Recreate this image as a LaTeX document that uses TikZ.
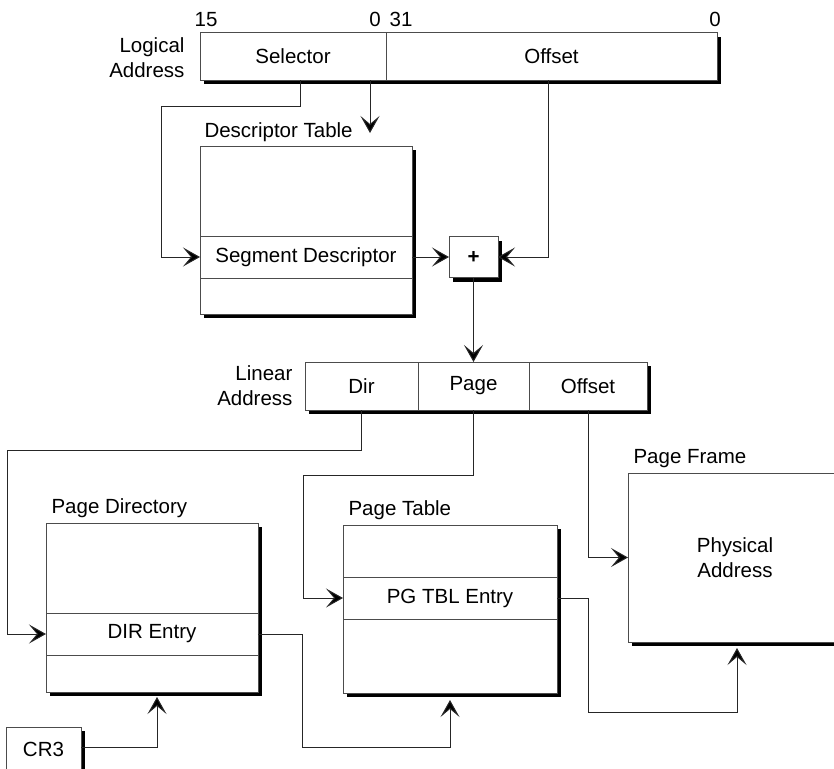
\documentclass[tikz,border=0pt]{standalone}
\usepackage{fontspec}
\setmainfont{Liberation Sans}
\usetikzlibrary{arrows.meta,shadows,positioning}

\begin{document}
\begin{tikzpicture}[x=1pt,y=-1pt,
  every node/.style={font=\fontsize{20.5pt}{25pt}\selectfont},
  regbox/.style={draw=black!70,fill=white,line width=1pt,inner sep=0pt,outer sep=0pt,
    anchor=north west,
    drop shadow={shadow xshift=4pt,shadow yshift=-4pt,fill=black,opacity=1}},
  rowbox/.style={draw=black!70,line width=1pt,inner sep=0pt,outer sep=0pt,anchor=north west},
  link/.style={draw=black!85,line width=1pt,-{Stealth[length=17pt,width=19pt,inset=8pt,fill=black]}}]
\useasboundingbox (0,0) rectangle (834,768);
\clip (0,0) rectangle (834,768);

% logical address
\node[anchor=east,align=right] (lalabel) at (188,58) {Logical\\Address};
\node[regbox,minimum width=186pt,minimum height=47pt] (sel) at (200,33) {Selector};
\node[regbox,minimum width=331pt,minimum height=47pt] (loff) at (386,33) {Offset};
\node (b15) at (206,19.5) {15};
\node (b0a) at (375,19.5) {0};
\node (b31) at (401,19.5) {31};
\node (b0b) at (715,19.5) {0};

% descriptor table
\node[anchor=base west] (dtlabel) at (201,137) {Descriptor Table};
\node[regbox,minimum width=212pt,minimum height=168pt] (dtab) at (200,146) {};
\node[rowbox,minimum width=212pt,minimum height=42pt] (segdesc) at (200,236) {Segment Descriptor};
\node[regbox,anchor=center,minimum width=49pt,minimum height=41pt] (plus) at (473.5,257) {\textbf{+}};
\coordinate (dtin) at (370,133);

% linear address
\node[anchor=east,align=right] (lnlabel) at (296,386) {Linear\\Address};
\node[regbox,minimum width=113pt,minimum height=48pt] (ldir) at (305,362) {Dir};
\node[regbox,minimum width=111pt,minimum height=48pt] (lpage) at (418,362) {Page};
\node[regbox,minimum width=118pt,minimum height=48pt] (lofs) at (529,362) {Offset};

% page directory, page table, page frame
\node[anchor=base west] (pdlabel) at (48,513) {Page Directory};
\node[regbox,minimum width=212pt,minimum height=169pt] (pdir) at (46,523) {};
\node[rowbox,minimum width=212pt,minimum height=42pt] (dirent) at (46,613) {DIR Entry};
\node[anchor=base west] (ptlabel) at (345,515) {Page Table};
\node[regbox,minimum width=214pt,minimum height=168pt] (ptab) at (343,525) {};
\node[rowbox,minimum width=214pt,minimum height=42pt] (pgent) at (343,577) {PG TBL Entry};
\node[anchor=base west] (pflabel) at (630,463) {Page Frame};
\node[regbox,minimum width=214pt,minimum height=169pt,align=center] (frame) at (628,473) {Physical\\Address};
\node[regbox,minimum width=75pt,minimum height=44pt] (cr3) at (6,727) {CR3};

\draw[link] ([xshift=7pt]sel.south) |- (161,106) |- (segdesc.west);
\draw[link] (sel.south -| dtin) -- (dtin);
\draw[link] (segdesc.east) -- (plus.west);
\draw[link] ([xshift=-3.5pt]loff.south) |- (plus.east);
\draw[link] (plus.south) -- (plus.south |- lpage.north);
\draw[link] (ldir.south) |- (7,450) |- (dirent.west);
\draw[link] (lpage.south) |- (303,475) |- (pgent.west);
\draw[link] (lofs.south) |- (frame.west);
\draw[link] (dirent.east) -| (302,747) -| ([yshift=-7pt]ptab.south);
\draw[link] (pgent.east) -| (588,712) -| ([xshift=2pt,yshift=-6pt]frame.south);
\draw[link] ([yshift=2pt]cr3.east) -| ([xshift=5pt,yshift=-5pt]pdir.south);
\end{tikzpicture}
\end{document}
